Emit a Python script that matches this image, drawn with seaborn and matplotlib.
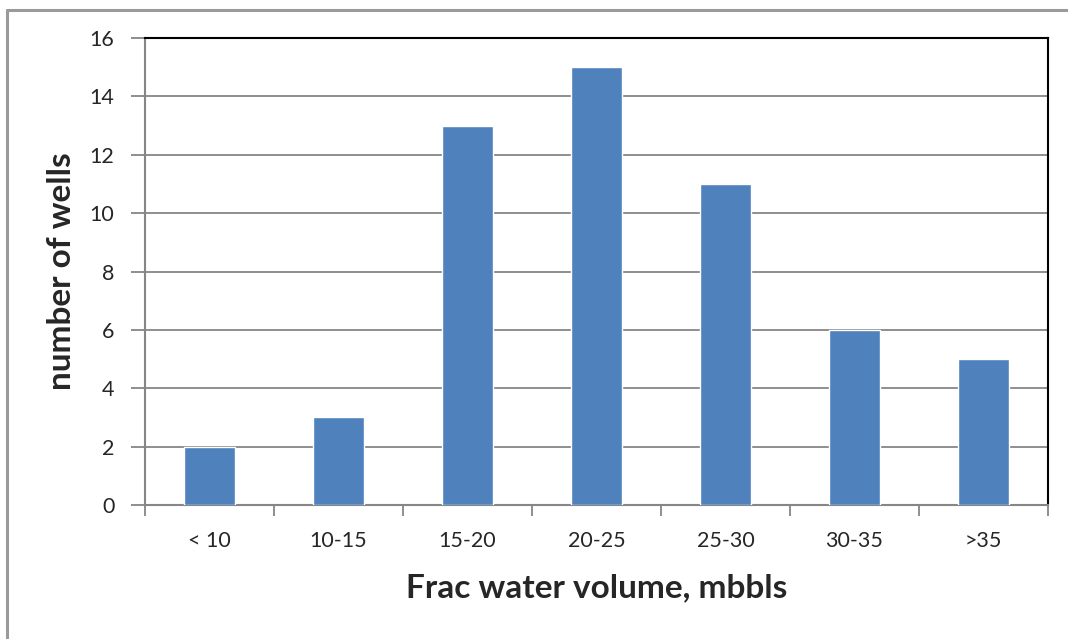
import numpy as np
import pandas as pd
import seaborn as sns
import matplotlib.pyplot as plt
from matplotlib.lines import Line2D

# values
categories = ["< 10", "10-15", "15-20", "20-25", "25-30", "30-35", ">35"]
wells = [2, 3, 13, 15, 11, 6, 5]
y_ticks = [0, 2, 4, 6, 8, 10, 12, 14, 16]

data = pd.DataFrame({"volume": categories, "wells": wells})

sns.set_theme(style="white")
plt.rcParams['font.family'] = ['Lato', 'DejaVu Sans']

grey = "#868686"
fig = plt.figure(figsize=(10.68, 6.39), dpi=100)
ax = fig.add_axes([0.1358, 0.2097, 0.9813 - 0.1358, 0.9405 - 0.2097])

sns.barplot(data=data, x="volume", y="wells", order=categories,
            color="#4F81BD", saturation=1, width=0.4, ax=ax, zorder=3)

ax.set_ylim(0, 16)
ax.set_xlim(-0.5, len(categories) - 0.5)
ax.set_yticks(y_ticks)
ax.yaxis.grid(True, color=grey, linewidth=1.3, zorder=0)
ax.set_axisbelow(True)

# x ticks sit between categories, labels in the middle
ax.set_xticks(np.arange(-0.5, len(categories)), minor=False)
ax.set_xticklabels([])
ax.set_xticks(np.arange(len(categories)), minor=True)
ax.set_xticklabels(categories, minor=True)
ax.tick_params(axis="x", which="major", direction="out", length=8, width=1.3, color=grey, bottom=True)
ax.tick_params(axis="x", which="minor", length=0, labelsize=15.5, pad=19, bottom=True)
ax.tick_params(axis="y", direction="out", length=10, width=1.3, color=grey, labelsize=15.5, pad=12, left=True)

for s in ["left", "bottom"]:
    ax.spines[s].set_color(grey)
    ax.spines[s].set_linewidth(1.5)
for s in ["top", "right"]:
    ax.spines[s].set_color("black")
    ax.spines[s].set_linewidth(1.5)

ax.set_xlabel("Frac water volume, mbbls", fontsize=24, fontweight="bold", labelpad=16)
ax.set_ylabel("number of wells", fontsize=24, fontweight="bold", labelpad=10)

# outer chart frame (only top and left edges visible)
fig.add_artist(Line2D([7 / 1068, 1.0], [1 - 10 / 639, 1 - 10 / 639], color="#9a9a9a", linewidth=2.2, transform=fig.transFigure))
fig.add_artist(Line2D([7 / 1068, 7 / 1068], [0.0, 1 - 10 / 639], color="#9a9a9a", linewidth=2.2, transform=fig.transFigure))

fig.savefig("out.png", dpi=100)
